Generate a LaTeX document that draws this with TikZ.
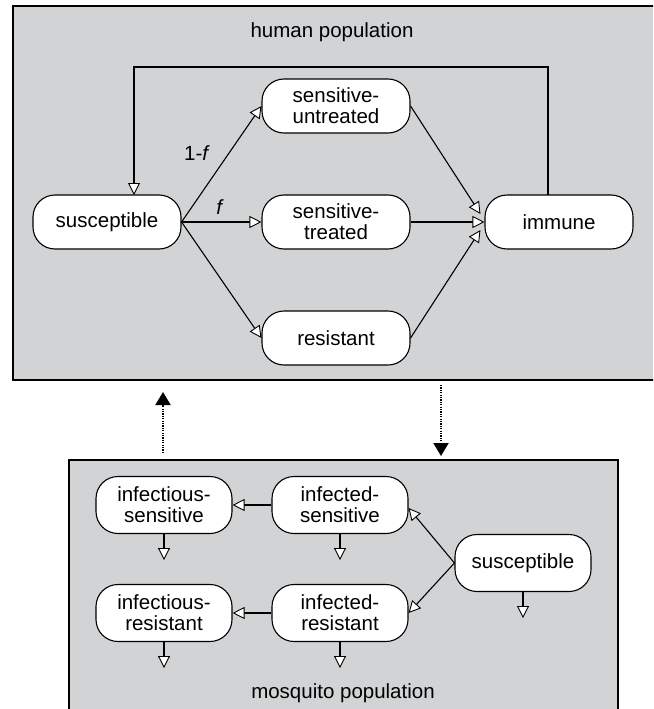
\documentclass[tikz,border=0pt]{standalone}
\usepackage{fontspec}
\setmainfont{Liberation Sans}
\usetikzlibrary{arrows.meta,calc}
\definecolor{panel}{RGB}{209,211,212}
\tikzset{
  state/.style={draw=black, fill=white, line width=1.1pt, rounded corners=22pt,
    align=center, inner sep=0pt, minimum height=54pt, minimum width=148pt,
    font=\fontsize{20.5}{21}\selectfont},
  mstate/.style={state, minimum width=136pt, minimum height=57pt},
  flow/.style={line width=1.1pt, -{Triangle[length=12pt,width=12pt,fill=white,line width=0.9pt]}},
  link/.style={line width=2pt, dash pattern=on 1.2pt off 1.2pt, -{Triangle[length=13pt,width=15pt,fill=black]}},
  panelbox/.style={draw=black, fill=panel, line width=1.3pt},
  lbl/.style={font=\fontsize{20.5}{21}\selectfont, inner sep=0pt}
}
\begin{document}
\begin{tikzpicture}[x=1pt,y=-1pt]
\useasboundingbox (0,0) rectangle (653,709);
\clip (0,0) rectangle (653,709);
% panels
\path[panelbox] (13,6) rectangle (670,380);
\path[panelbox] (69,460) rectangle (618,730);
\node[lbl] (hp) at (332,32) {human population};
\node[lbl] (mp) at (343,693) {mosquito population};
% human nodes
\node[state] (sus) at (107,222) {susceptible};
\node[state] (su) at (336,106) {sensitive-\\untreated};
\node[state] (st) at (336,222) {sensitive-\\treated};
\node[state] (res) at (336,338) {resistant};
\node[state] (imm) at (559,222) {immune};
\node[lbl] (l1) at (197,153) {1-\textit{f}};
\node[lbl] (l2) at (220,207) {\textit{f}};
\draw[flow] (sus.east) -- (su.west);
\draw[flow] (sus.east) -- (st.west);
\draw[flow] (sus.east) -- (res.west);
\coordinate (iA) at ($(imm.west)+(-4,-8)$);
\coordinate (iC) at ($(imm.west)+(-4,8)$);
\draw[flow] (su.east) -- (iA);
\draw[flow] (st.east) -- (imm.west);
\draw[flow] (res.east) -- (iC);
\coordinate (fbR) at (548,67);
\coordinate (fbL) at (134,67);
\coordinate (fbS) at (548,195);
\coordinate (fbE) at (134,195);
\draw[flow] (fbS) -- (fbR) -- (fbL) -- (fbE);
% mosquito nodes
\node[mstate] (ms) at (164,505) {infectious-\\sensitive};
\node[mstate] (is) at (340,505) {infected-\\sensitive};
\node[mstate] (mr) at (164,613) {infectious-\\resistant};
\node[mstate] (ir) at (340,613) {infected-\\resistant};
\node[mstate] (msus) at (523,563) {susceptible};
\draw[flow] (is.west) -- (ms.east);
\draw[flow] (ir.west) -- (mr.east);
\draw[flow] (msus.west) -- ($(is.east)+(0,3)$);
\draw[flow] (msus.west) -- (ir.east);
\foreach \n in {ms,is,mr,ir,msus}{
  \coordinate (\n-d) at ($(\n.south)+(0,26)$);
  \draw[flow] (\n.south) -- (\n-d);
}
% dotted links
\coordinate (upA) at (163,453);
\coordinate (upB) at (163,392);
\coordinate (dnA) at (441,385);
\coordinate (dnB) at (441,456);
\draw[link] (upA) -- (upB);
\draw[link] (dnA) -- (dnB);
\end{tikzpicture}
\end{document}
